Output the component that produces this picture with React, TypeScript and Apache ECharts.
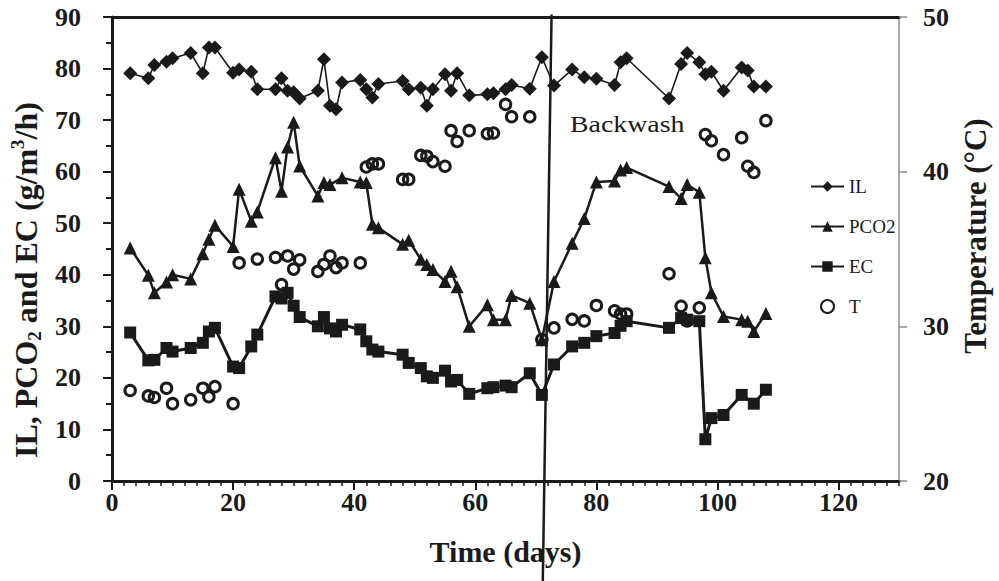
import React, { useEffect, useRef } from "react";
import * as echarts from "echarts";

// ---------- data ----------
const IL_DAYS = [3, 6, 7, 9, 10, 13, 15, 16, 17, 20, 21, 23, 24, 27, 28, 29, 30, 31, 34, 35, 36, 37, 38, 41, 42, 43, 44, 48, 49, 51, 52, 53, 55, 56, 57, 59, 62, 63, 65, 66, 69, 71, 73, 76, 78, 80, 83, 84, 85, 92, 94, 95, 97, 98, 99, 101, 104, 105, 106, 108];
const IL_VALUES = [79.1, 78.1, 80.7, 81.3, 82.0, 83.0, 79.1, 84.1, 84.1, 79.2, 79.8, 79.4, 76.0, 76.0, 78.1, 75.7, 75.4, 74.2, 75.7, 81.8, 72.8, 72.1, 77.3, 77.8, 76.0, 74.4, 77.0, 77.6, 76.0, 76.3, 72.8, 76.0, 78.9, 75.7, 79.1, 74.8, 75.0, 75.2, 76.0, 76.8, 76.1, 82.2, 76.7, 79.8, 78.3, 78.0, 76.8, 81.2, 82.0, 74.2, 80.9, 83.0, 81.2, 78.9, 79.4, 75.7, 80.2, 79.6, 76.5, 76.5];

const PCO2_DAYS = [3, 6, 7, 9, 10, 13, 15, 16, 17, 20, 21, 23, 24, 27, 28, 29, 30, 31, 34, 35, 36, 38, 41, 42, 43, 44, 48, 49, 51, 52, 53, 55, 56, 57, 59, 62, 63, 65, 66, 69, 71, 73, 76, 78, 80, 83, 84, 85, 92, 94, 95, 97, 98, 99, 101, 104, 105, 106, 108];
const PCO2_VALUES = [45.2, 39.9, 36.5, 38.6, 40.0, 39.2, 44.1, 46.9, 49.6, 45.5, 56.6, 50.4, 52.2, 62.7, 56.2, 64.8, 69.6, 61.1, 55.3, 57.9, 57.5, 58.8, 58.0, 57.9, 49.8, 49.1, 45.9, 46.7, 43.0, 42.0, 41.0, 38.7, 40.7, 37.7, 30.0, 34.2, 31.3, 31.3, 36.0, 34.5, 27.4, 38.7, 46.1, 50.9, 58.0, 58.2, 60.3, 60.8, 57.1, 54.8, 57.5, 56.0, 43.3, 36.5, 31.9, 31.3, 31.0, 29.0, 32.5];

const EC_DAYS = [3, 6, 7, 9, 10, 13, 15, 16, 17, 20, 21, 23, 24, 27, 28, 29, 30, 31, 34, 35, 36, 37, 38, 41, 42, 43, 44, 48, 49, 51, 52, 53, 55, 56, 57, 59, 62, 63, 65, 66, 69, 71, 73, 76, 78, 80, 83, 84, 85, 92, 94, 95, 97, 98, 99, 101, 104, 106, 108];
const EC_VALUES = [28.8, 23.4, 23.5, 25.8, 25.1, 25.8, 26.8, 29.0, 29.7, 22.2, 21.9, 26.1, 28.4, 35.8, 35.4, 36.5, 34.0, 31.8, 30.0, 31.8, 29.6, 29.0, 30.3, 29.4, 27.1, 25.5, 25.1, 24.5, 22.9, 21.9, 20.3, 20.0, 21.4, 19.3, 19.6, 16.9, 18.0, 18.2, 18.5, 18.2, 20.9, 16.7, 22.6, 26.1, 26.8, 28.1, 28.7, 30.1, 31.0, 29.7, 31.6, 31.3, 31.0, 8.1, 12.2, 12.8, 16.7, 15.0, 17.7];

const T_DAYS = [3, 6, 7, 9, 10, 13, 15, 16, 17, 20, 21, 24, 27, 28, 29, 30, 31, 34, 35, 36, 37, 38, 41, 42, 43, 44, 48, 49, 51, 52, 53, 55, 56, 57, 59, 62, 63, 65, 66, 69, 71, 73, 76, 78, 80, 83, 84, 85, 92, 94, 95, 97, 98, 99, 101, 104, 105, 106, 108];
const T_VALUES = [25.85, 25.5, 25.4, 26.0, 25.0, 25.25, 26.0, 25.45, 26.1, 25.0, 34.1, 34.35, 34.45, 32.7, 34.55, 33.7, 34.3, 33.55, 34.0, 34.55, 33.8, 34.1, 34.1, 40.3, 40.5, 40.5, 39.5, 39.5, 41.05, 41.0, 40.65, 40.35, 42.65, 41.95, 42.65, 42.45, 42.5, 44.35, 43.55, 43.55, 29.15, 29.9, 30.45, 30.35, 31.35, 31.0, 30.8, 30.8, 33.4, 31.3, 30.35, 31.2, 42.4, 42.0, 41.1, 42.2, 40.35, 39.95, 43.3];

// backwash marker: day at top and bottom of the drawn line, value span
const BACKWASH_DAYS = [72.6, 71.15];
const BACKWASH_VALUES = [90.5, -19.5];

const SERIES_NAMES = ["IL", "PCO2", "EC", "T"];
const X_TICKS = { min: 0, max: 130, interval: 20, minor: 2 };
const Y_LEFT = { min: 0, max: 90, interval: 10 };
const Y_RIGHT = { min: 20, max: 50, interval: 10 };

const FONT = "'Liberation Serif', 'Times New Roman', Times, serif";
const INK = "#1a1a1a";

const zip = (xs: number[], ys: number[]) => xs.map((x, i) => [x, ys[i]]);

export default function App() {
  const ref = useRef<HTMLDivElement>(null);

  useEffect(() => {
    if (!ref.current) return;
    const chart = echarts.init(ref.current, undefined, { renderer: "svg" });

    const boldLabel = { fontFamily: FONT, fontWeight: "bold" as const, fontSize: 26, color: INK };

    chart.setOption({
      animation: false,
      backgroundColor: "#ffffff",
      grid: { left: 112, right: 92, top: 17, bottom: 100, containLabel: false },
      legend: {
        orient: "vertical",
        left: 810,
        top: 177,
        padding: 0,
        itemWidth: 33,
        itemHeight: 13,
        itemGap: 21,
        data: SERIES_NAMES,
        textStyle: { fontFamily: FONT, fontSize: 19, color: INK },
      },
      xAxis: [
        {
          type: "value",
          min: X_TICKS.min,
          max: X_TICKS.max,
          interval: X_TICKS.interval,
          position: "bottom",
          axisLine: { show: true, onZero: false, lineStyle: { color: INK, width: 3 } },
          axisTick: { show: true, length: 9, lineStyle: { color: INK, width: 2 } },
          axisLabel: { ...boldLabel, margin: 8, showMaxLabel: false },
          splitLine: { show: false },
          name: "Time (days)",
          nameLocation: "middle",
          nameGap: 55,
          nameTextStyle: { fontFamily: FONT, fontWeight: "bold", fontSize: 30, color: INK },
        },
        {
          type: "value",
          min: X_TICKS.min,
          max: X_TICKS.max,
          interval: X_TICKS.minor,
          position: "bottom",
          axisLine: { show: false, onZero: false },
          axisTick: { show: true, length: 5, lineStyle: { color: INK, width: 1.5 } },
          axisLabel: { show: false },
          splitLine: { show: false },
        },
        {
          type: "value",
          min: X_TICKS.min,
          max: X_TICKS.max,
          position: "top",
          axisLine: { show: true, onZero: false, lineStyle: { color: INK, width: 3 } },
          axisTick: { show: false },
          axisLabel: { show: false },
          splitLine: { show: false },
        },
      ],
      yAxis: [
        {
          type: "value",
          min: Y_LEFT.min,
          max: Y_LEFT.max,
          interval: Y_LEFT.interval,
          position: "left",
          axisLine: { show: true, onZero: false, lineStyle: { color: INK, width: 3 } },
          axisTick: { show: true, length: 9, lineStyle: { color: INK, width: 2 } },
          minorTick: { show: true, splitNumber: 2, length: 6, lineStyle: { color: INK, width: 2 } },
          axisLabel: { ...boldLabel, margin: 31 },
          splitLine: { show: false },
          name: "IL, PCO{sub|2} and EC (g/m{sup|3}/h)",
          nameLocation: "middle",
          nameGap: 52,
          nameTextStyle: {
            fontFamily: FONT,
            fontWeight: "bold",
            fontSize: 32,
            lineHeight: 36,
            color: INK,
            padding: [0, 62, 0, 0],
            rich: {
              sub: { fontFamily: FONT, fontWeight: "bold", fontSize: 19, lineHeight: 19, verticalAlign: "bottom", color: INK },
              sup: { fontFamily: FONT, fontWeight: "bold", fontSize: 19, lineHeight: 19, verticalAlign: "top", color: INK },
            },
          },
        },
        {
          type: "value",
          min: Y_RIGHT.min,
          max: Y_RIGHT.max,
          interval: Y_RIGHT.interval,
          position: "right",
          axisLine: { show: true, onZero: false, lineStyle: { color: "#8c8c8c", width: 1.5 } },
          axisTick: { show: true, length: 8, lineStyle: { color: "#8c8c8c", width: 1.5 } },
          axisLabel: { ...boldLabel, margin: 24 },
          splitLine: { show: false },
          name: "Temperature (°C)",
          nameLocation: "middle",
          nameRotate: 90,
          nameGap: 58,
          nameTextStyle: { fontFamily: FONT, fontWeight: "bold", fontSize: 31, color: INK, padding: [0, 0, 0, 26] },
        },
      ],
      graphic: [
        {
          type: "text",
          x: 570,
          y: 112,
          scaleX: 1.16,
          style: { text: "Backwash", fontFamily: FONT, fontSize: 24, fill: INK, verticalAlign: "top" },
        },
      ],
      series: [
        {
          name: "IL",
          type: "line",
          xAxisIndex: 0,
          yAxisIndex: 0,
          data: zip(IL_DAYS, IL_VALUES),
          symbol: "diamond",
          symbolSize: 14,
          showAllSymbol: true,
          lineStyle: { color: INK, width: 1.6 },
          itemStyle: { color: INK },
        },
        {
          name: "PCO2",
          type: "line",
          xAxisIndex: 0,
          yAxisIndex: 0,
          data: zip(PCO2_DAYS, PCO2_VALUES),
          symbol: "triangle",
          symbolSize: 13,
          showAllSymbol: true,
          lineStyle: { color: INK, width: 2.5 },
          itemStyle: { color: INK },
        },
        {
          name: "EC",
          type: "line",
          xAxisIndex: 0,
          yAxisIndex: 0,
          data: zip(EC_DAYS, EC_VALUES),
          symbol: "rect",
          symbolSize: 12,
          showAllSymbol: true,
          lineStyle: { color: INK, width: 3 },
          itemStyle: { color: INK },
        },
        {
          name: "T",
          type: "scatter",
          xAxisIndex: 0,
          yAxisIndex: 1,
          data: zip(T_DAYS, T_VALUES),
          symbol: "circle",
          symbolSize: 10.5,
          itemStyle: { color: "rgba(255,255,255,0)", borderColor: INK, borderWidth: 3, opacity: 1 },
        },
        {
          name: "Backwash",
          type: "line",
          xAxisIndex: 0,
          yAxisIndex: 0,
          data: zip(BACKWASH_DAYS, BACKWASH_VALUES),
          symbol: "none",
          clip: false,
          silent: true,
          lineStyle: { color: INK, width: 2.5 },
          z: 1,
        },
      ],
    });

    return () => chart.dispose();
  }, []);

  return (
    <div
      ref={ref}
      style={{ position: "absolute", left: 0, top: 0, width: 999, height: 581, background: "#fff" }}
    />
  );
}
